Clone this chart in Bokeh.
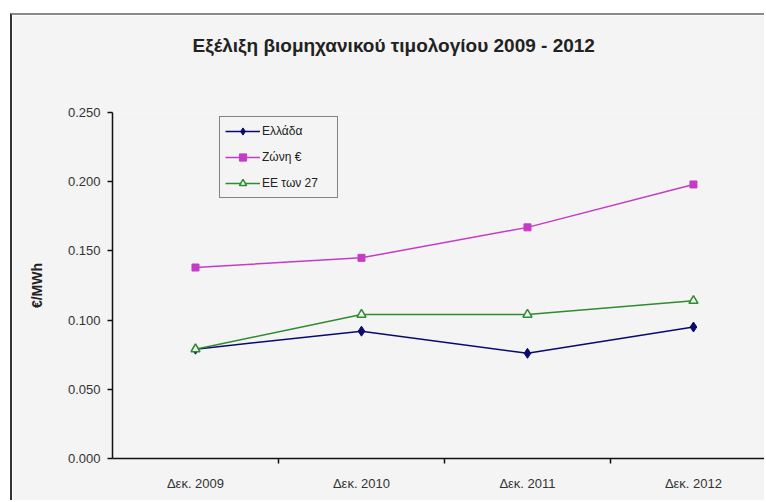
from bokeh.plotting import figure
from bokeh.models import (Range1d, FixedTicker, PrintfTickFormatter, Legend, LegendItem, LinearAxis)
from bokeh.embed import file_html
from bokeh.resources import INLINE

# ---- data ----
categories = ["Δεκ. 2009", "Δεκ. 2010", "Δεκ. 2011", "Δεκ. 2012"]
ellada = [0.079, 0.092, 0.076, 0.095]
zoni_euro = [0.138, 0.145, 0.167, 0.198]
ee27 = [0.079, 0.104, 0.104, 0.114]
y_ticks = [0.0, 0.05, 0.10, 0.15, 0.20, 0.25]
series_labels = ["Ελλάδα", "Ζώνη €", "ΕΕ των 27"]
title_text = "Εξέλιξη βιομηχανικού τιμολογίου 2009 - 2012"
y_label = "€/MWh"

FONT = "Liberation Sans"
BG = "#f4f4f4"

x_pos = [i + 0.5 for i in range(len(categories))]

p = figure(width=754, height=487, output_backend="svg", toolbar_location=None,
           x_range=Range1d(0, 3.94), y_range=Range1d(0, 0.25),
           min_border_left=100, min_border_right=0, min_border_top=96, min_border_bottom=44)
p.styles = {"border-left": "2px solid #333333", "border-top": "2px solid #8a8a8a",
            "margin-left": "10px", "margin-top": "13px"}

p.background_fill_color = BG
p.border_fill_color = BG
p.outline_line_color = None
p.xgrid.visible = False
p.ygrid.visible = False

xa = p.below[0]
ya = p.left[0]

# invisible spacer between frame and title (one tick drawn in background colour)
spacer = LinearAxis(ticker=FixedTicker(ticks=[1.0], minor_ticks=[]), axis_line_color=None,
                    major_tick_line_color=BG, minor_tick_line_color=None,
                    major_tick_out=40, major_tick_in=0, minor_tick_out=0, minor_tick_in=0,
                    major_label_standoff=0, major_label_overrides={1.0: ""})
p.add_layout(spacer, "above")

# title
p.title.text = title_text
p.title.text_font = FONT
p.title.text_font_size = "19px"
p.title.text_font_style = "bold"
p.title.text_color = "#222222"
p.title.align = "left"
p.title.offset = 80
p.title.standoff = 34

# y axis
ya.ticker = FixedTicker(ticks=y_ticks, minor_ticks=[])
ya.formatter = PrintfTickFormatter(format="%.3f")
ya.axis_line_color = "#111111"
ya.axis_line_width = 1.5
ya.major_tick_out = 5
ya.major_tick_in = 0
ya.major_tick_line_color = "#111111"
ya.major_tick_line_width = 1.5
ya.minor_tick_line_color = None
ya.major_label_text_font = FONT
ya.major_label_text_font_size = "13px"
ya.major_label_text_color = "#333333"
ya.major_label_standoff = 7
ya.axis_label = y_label
ya.axis_label_text_font = FONT
ya.axis_label_text_font_size = "14px"
ya.axis_label_text_font_style = "bold"
ya.axis_label_text_color = "#222222"
ya.axis_label_standoff = 20

# x axis (labels at category centres, tick marks between categories)
xa.ticker = FixedTicker(ticks=x_pos, minor_ticks=[1, 2, 3])
xa.major_label_overrides = {x: c for x, c in zip(x_pos, categories)}
xa.axis_line_color = "#111111"
xa.axis_line_width = 1.5
xa.major_tick_line_color = None
xa.major_tick_out = 0
xa.major_tick_in = 0
xa.minor_tick_line_color = "#111111"
xa.minor_tick_line_width = 1.5
xa.minor_tick_out = 5
xa.minor_tick_in = 0
xa.major_label_text_font = FONT
xa.major_label_text_font_size = "13px"
xa.major_label_text_color = "#333333"
xa.major_label_standoff = 12

# series
c_gr, c_zone, c_eu = "#0a0a6e", "#c43cc4", "#2e8b2e"
l1 = p.line(x_pos, ellada, line_color=c_gr, line_width=1.5)
m1 = p.scatter(x_pos, ellada, marker="diamond", size=10, fill_color=c_gr, line_color=c_gr)
l2 = p.line(x_pos, zoni_euro, line_color=c_zone, line_width=1.5)
m2 = p.scatter(x_pos, zoni_euro, marker="square", size=7, fill_color=c_zone, line_color=c_zone)
l3 = p.line(x_pos, ee27, line_color=c_eu, line_width=1.5)
m3 = p.scatter(x_pos, ee27, marker="triangle", size=9, fill_color=BG, line_color=c_eu, line_width=1.5)

legend = Legend(items=[LegendItem(label=series_labels[0], renderers=[l1, m1]),
                       LegendItem(label=series_labels[1], renderers=[l2, m2]),
                       LegendItem(label=series_labels[2], renderers=[l3, m3])],
                location=(107, 260))
legend.label_text_font = FONT
legend.label_text_font_size = "12px"
legend.label_text_color = "#222222"
legend.glyph_width = 35
legend.glyph_height = 18
legend.label_height = 18
legend.label_width = 70
legend.label_standoff = 2
legend.spacing = 8
legend.padding = 5
legend.margin = 0
legend.border_line_color = "#111111"
legend.border_line_width = 1.5
legend.background_fill_color = BG
legend.background_fill_alpha = 1.0
p.add_layout(legend)

open("out.html", "w").write(file_html(p, INLINE))
